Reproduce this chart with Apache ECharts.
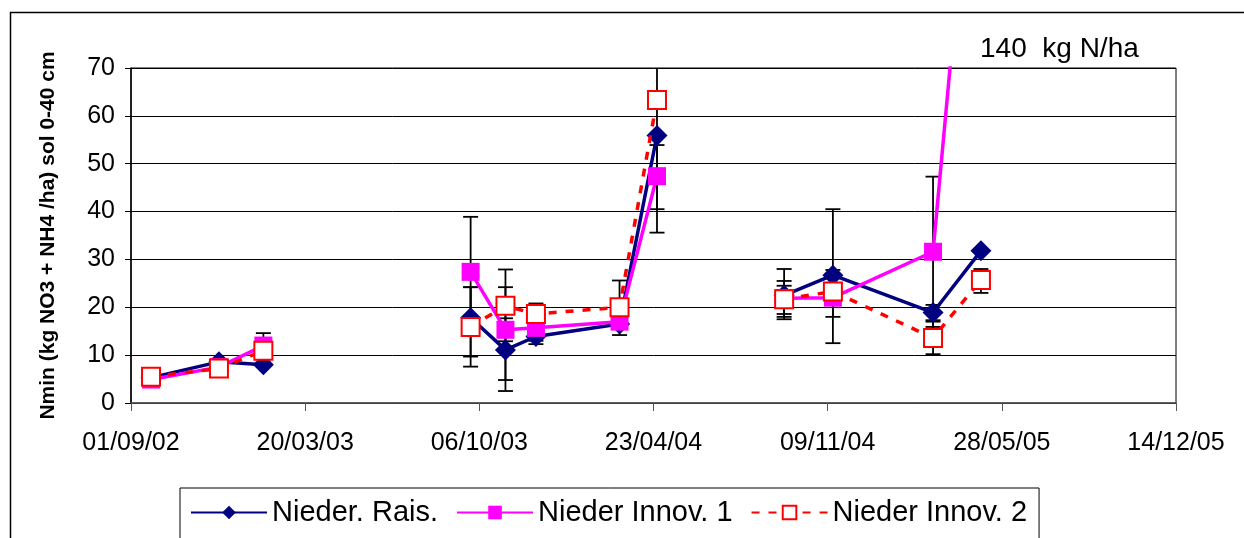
<!DOCTYPE html>
<html>
<head>
<meta charset="utf-8">
<script src="https://cdn.jsdelivr.net/npm/echarts@6/dist/echarts.min.js"></script>
<style>
  html, body { margin: 0; padding: 0; background: #fff; }
  #chart { width: 1244px; height: 538px; }
</style>
</head>
<body>
<div id="chart"></div>
<script>
// Sampling dates (null entries separate the three measurement campaigns)
const sampleDates = [
  '2002-09-24', '2002-12-11', '2003-01-31', '2003-06-01',
  '2003-09-26', '2003-11-05', '2003-12-10', '2004-03-15', '2004-04-27', '2004-07-01',
  '2004-09-20', '2004-11-15', '2005-03-10', '2005-05-04'
];

// Nmin, kg NO3 + NH4 per ha, soil 0-40 cm
const niederRais   = [5.3, 8.6, 8.0, null, 17.8, 11.1, 13.9, 16.5, 55.9, null, 22.5, 26.7, 18.9, 31.8];
const niederInnov1 = [4.9, 7.5, 12.0, null, 27.4, 15.3, 15.7, 17.0, 47.4, null, 21.9, 22.0, 31.6, 140];
const niederInnov2 = [5.5, 7.2, 10.9, null, 15.9, 20.3, 18.6, 20.0, 63.3, null, 21.7, 23.3, 13.6, 25.7];

// Error bars: [date, low, high]
const errorBars = [
  ['2003-01-31', 8.5, 14.6],
  ['2003-09-26', 15.9, 38.9], ['2003-09-26', 9.7, 24.2], ['2003-09-26', 7.6, 24.2],
  ['2003-11-05', 2.5, 27.9], ['2003-11-05', 4.8, 24.2], ['2003-11-05', 12.9, 17.7],
  ['2003-12-10', 12.3, 20.8], ['2003-12-10', 13.0, 20.3],
  ['2004-03-15', 14.2, 25.6], ['2004-03-15', 15.8, 18.2],
  ['2004-04-27', 35.6, 76.0], ['2004-04-27', 40.5, 53.9],
  ['2004-09-20', 17.5, 28.0], ['2004-09-20', 18.0, 25.5], ['2004-09-20', 18.6, 24.5],
  ['2004-11-15', 12.5, 40.5], ['2004-11-15', 18.0, 27.8],
  ['2005-03-10', 15.9, 47.3], ['2005-03-10', 10.2, 17.0], ['2005-03-10', 17.3, 20.5],
  ['2005-05-04', 23.0, 28.0]
];

// Axis tick labels, one every 200 days from 01/09/02
const xTickLabels = ['01/09/02', '20/03/03', '06/10/03', '23/04/04', '09/11/04', '28/05/05', '14/12/05'];
const xTickStepDays = 200;
const yTicks = [0, 10, 20, 30, 40, 50, 60, 70];

const seriesNames = ['Nieder. Rais.', 'Nieder Innov. 1', 'Nieder Innov. 2'];
const annotationText = '140  kg N/ha';
const yAxisTitle = 'Nmin (kg NO3 + NH4 /ha) sol 0-40 cm';

// Dates are placed on a numeric axis in days since 01/09/02
const DAY0 = Date.UTC(2002, 8, 1);
function dayOf(s) {
  const p = s.split('-').map(Number);
  return (Date.UTC(p[0], p[1] - 1, p[2]) - DAY0) / 86400000;
}
function pairs(values) {
  return sampleDates.map((d, i) => [dayOf(d), values[i]]);
}

const FONT = '"Liberation Sans", Arial, sans-serif';
const chart = echarts.init(document.getElementById('chart'), null, { renderer: 'canvas' });

chart.setOption({
  animation: false,
  backgroundColor: '#ffffff',
  textStyle: { fontFamily: FONT },
  grid: {
    left: 131, right: 68, top: 68, bottom: 135,
    show: true, borderColor: '#000', borderWidth: 1, backgroundColor: 'transparent'
  },
  xAxis: {
    type: 'value',
    min: 0,
    max: xTickStepDays * (xTickLabels.length - 1),
    interval: xTickStepDays,
    axisLine: { show: true, lineStyle: { color: '#555', width: 1.5 } },
    axisTick: { show: true, inside: false, length: 8, lineStyle: { color: '#555' } },
    splitLine: { show: false },
    axisLabel: {
      fontFamily: FONT, fontSize: 25, color: '#000', margin: 28,
      formatter: v => xTickLabels[Math.round(v / xTickStepDays)] || ''
    }
  },
  yAxis: {
    type: 'value',
    min: yTicks[0], max: yTicks[yTicks.length - 1], interval: 10,
    name: yAxisTitle,
    nameLocation: 'middle', nameRotate: 90, nameGap: 72,
    nameTextStyle: { fontFamily: FONT, fontSize: 21, fontWeight: 'bold', color: '#000' },
    axisLine: { show: true, lineStyle: { color: '#000', width: 1.5 } },
    axisTick: { show: true, inside: false, length: 6, lineStyle: { color: '#000' } },
    splitLine: { show: true, lineStyle: { color: '#000', width: 1 } },
    axisLabel: { fontFamily: FONT, fontSize: 25, color: '#000', margin: 16 }
  },
  legend: {
    left: 180, top: 488,
    orient: 'horizontal',
    data: seriesNames,
    backgroundColor: '#fff',
    borderColor: '#000', borderWidth: 1,
    padding: [10, 12, 14, 10],
    itemWidth: 76, itemHeight: 17, itemGap: 18,
    textStyle: { fontFamily: FONT, fontSize: 29, color: '#000' }
  },
  graphic: [
    {
      type: 'rect', silent: true, z: 100,
      shape: { x: 10.5, y: 12.5, width: 1260, height: 560 },
      style: { fill: 'none', stroke: '#000', lineWidth: 1.5 }
    },
    {
      type: 'text', left: 980, top: 35, silent: true,
      style: { text: annotationText, font: '28px ' + FONT, fill: '#000' }
    }
  ],
  series: [
    {
      type: 'custom',
      name: 'errors',
      z: 1,
      clip: true,
      silent: true,
      data: errorBars.map(e => [dayOf(e[0]), e[1], e[2]]),
      renderItem: function (params, api) {
        const x = api.value(0);
        const lo = api.coord([x, api.value(1)]);
        const hi = api.coord([x, api.value(2)]);
        const cap = 7.5;
        const style = { stroke: '#000', lineWidth: 1.8 };
        return {
          type: 'group',
          children: [
            { type: 'line', shape: { x1: lo[0], y1: lo[1], x2: hi[0], y2: hi[1] }, style },
            { type: 'line', shape: { x1: lo[0] - cap, y1: lo[1], x2: lo[0] + cap, y2: lo[1] }, style },
            { type: 'line', shape: { x1: hi[0] - cap, y1: hi[1], x2: hi[0] + cap, y2: hi[1] }, style }
          ]
        };
      }
    },
    {
      name: seriesNames[0], type: 'line', z: 2,
      data: pairs(niederRais),
      connectNulls: false, clip: true,
      symbol: 'diamond', symbolSize: 21,
      color: '#000080',
      lineStyle: { color: '#000080', width: 3.5 },
      itemStyle: { color: '#000080' }
    },
    {
      name: seriesNames[1], type: 'line', z: 3,
      data: pairs(niederInnov1),
      connectNulls: false, clip: true,
      symbol: 'rect', symbolSize: 18,
      color: '#ff00ff',
      lineStyle: { color: '#ff00ff', width: 3.5 },
      itemStyle: { color: '#ff00ff' }
    },
    {
      name: seriesNames[2], type: 'line', z: 4,
      data: pairs(niederInnov2),
      connectNulls: false, clip: true,
      symbol: 'rect', symbolSize: 18,
      color: '#ff0000',
      lineStyle: { color: '#ff0000', width: 3.5, type: [8, 9] },
      itemStyle: { color: '#ffffff', borderColor: '#ff0000', borderWidth: 2 }
    }
  ]
});
</script>
</body>
</html>
